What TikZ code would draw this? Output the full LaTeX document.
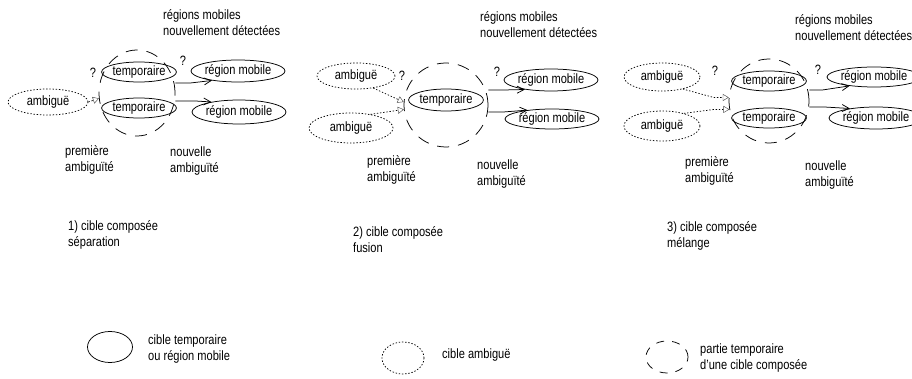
\documentclass[tikz,border=0pt]{standalone}
\usepackage{fontspec}
\setmainfont{Liberation Sans}[FakeStretch=0.82]
\usetikzlibrary{shapes.geometric,arrows.meta}
\begin{document}
\begin{tikzpicture}[x=1pt,y=-1pt,
  every node/.style={font=\fontsize{13.5}{16}\selectfont},
  cell/.style={ellipse,draw,line width=0.75pt,inner sep=0pt},
  solidell/.style={cell},
  ambell/.style={cell,dash pattern=on 1.4pt off 1.8pt},
  compell/.style={cell,dash pattern=on 12pt off 9pt},
  legdash/.style={cell,dash pattern=on 8pt off 8pt},
  lbl/.style={anchor=west,align=left,inner sep=0pt},
  qmark/.style={inner sep=0pt},
  arr/.style={line width=0.75pt,-{Straight Barb[length=7pt,width=7pt]}},
  dotarr/.style={line width=0.7pt,dash pattern=on 1.4pt off 1.8pt,
                 -{Triangle[open,length=6pt,width=7pt,line width=0.45pt,color=black!70]}}
]
\useasboundingbox (0,0) rectangle (912,379);

% ---------- 1) séparation ----------
\node[lbl] (top1) at (163,23) {régions mobiles\\nouvellement détectées};
\node[ambell,minimum width=80pt,minimum height=26pt] (amb1) at (48,102) {ambiguë};
\node[compell,minimum width=76pt,minimum height=86pt] (c1) at (137,93) {};
\node[solidell,minimum width=68pt,minimum height=20pt] (t1a) at (139,72) {temporaire};
\node[solidell,minimum width=68pt,minimum height=20pt] (t1b) at (139,108) {temporaire};
\node[solidell,minimum width=76pt,minimum height=22pt] (rm1a) at (238,71) {région mobile};
\node[solidell,minimum width=76pt,minimum height=24pt] (rm1b) at (239,112) {région mobile};
\node[qmark] (q1a) at (93,73) {?};
\node[qmark] (q1b) at (183,61) {?};
\draw[dotarr] (amb1.east) -- (c1.188);
\draw[arr] (c1.east) ++(0,-10) -- ++(15,0) -- (rm1a.200);
\draw[arr] (c1.east) ++(0,8) -- ++(20,0) -- (rm1b.160);
\node[lbl] (pa1) at (65,160) {première\\ambiguïté};
\node[lbl] (na1) at (170,161) {nouvelle\\ambiguïté};
\node[lbl] (cap1) at (68,235) {1) cible composée\\séparation};

% ---------- 2) fusion ----------
\node[lbl] (top2) at (480,24.5) {régions mobiles\\nouvellement détectées};
\node[ambell,minimum width=78pt,minimum height=26pt] (amb2a) at (356,76) {ambiguë};
\node[ambell,minimum width=84pt,minimum height=30pt] (amb2b) at (351,128) {ambiguë};
\node[compell,minimum width=84pt,minimum height=84pt] (c2) at (446,105) {};
\node[solidell,minimum width=72pt,minimum height=22pt] (t2) at (446,100) {temporaire};
\node[solidell,minimum width=78pt,minimum height=22pt] (rm2a) at (551,80) {région mobile};
\node[solidell,minimum width=78pt,minimum height=20pt] (rm2b) at (552,119) {région mobile};
\node[qmark] (q2a) at (402,76) {?};
\node[qmark] (q2b) at (497,72) {?};
\draw[dotarr] (amb2a.-35) -- (c2.176);
\draw[dotarr] (amb2b.35) -- (c2.186);
\draw[arr] (c2.east) ++(0,-15) -- ++(15,0) -- (rm2a.200);
\draw[arr] (c2.east) ++(0,7) -- ++(15,0) -- (rm2b.160);
\node[lbl] (pa2) at (367,169.5) {première\\ambiguïté};
\node[lbl] (na2) at (477,174.5) {nouvelle\\ambiguïté};
\node[lbl] (cap2) at (353,240) {2) cible composée\\fusion};

% ---------- 3) mélange ----------
\node[lbl] (top3) at (795,28) {régions mobiles\\nouvellement détectées};
\node[ambell,minimum width=76pt,minimum height=28pt] (amb3a) at (662,77) {ambiguë};
\node[ambell,minimum width=76pt,minimum height=30pt] (amb3b) at (662,126) {ambiguë};
\node[compell,minimum width=80pt,minimum height=84pt] (c3) at (769,101) {};
\node[solidell,minimum width=68pt,minimum height=20pt] (t3a) at (769,81) {temporaire};
\node[solidell,minimum width=68pt,minimum height=20pt] (t3b) at (769,118) {temporaire};
\node[solidell,minimum width=78pt,minimum height=20pt] (rm3a) at (874,77) {région mobile};
\node[solidell,minimum width=78pt,minimum height=22pt] (rm3b) at (876,118) {région mobile};
\node[qmark] (q3a) at (715,71) {?};
\node[qmark] (q3b) at (818,70) {?};
\draw[dotarr] (amb3a.-30) -- ([xshift=-15pt]c3.175) -- (c3.175);
\draw[dotarr] (amb3b.30) -- ([xshift=-15pt]c3.192) -- (c3.192);
\draw[arr] (c3.east) ++(0,-11) -- ++(13,0) -- (rm3a.200);
\draw[arr] (c3.east) ++(0,6) -- ++(15,0) -- (rm3b.160);
\node[lbl] (pa3) at (685,171) {première\\ambiguïté};
\node[lbl] (na3) at (805,175) {nouvelle\\ambiguïté};
\node[lbl] (cap3) at (667,236) {3) cible composée\\mélange};

% ---------- légende ----------
\node[solidell,minimum width=45pt,minimum height=31pt] (lg1) at (110,347) {};
\node[lbl] (lt1) at (148,349) {cible temporaire\\ou région mobile};
\node[ambell,minimum width=42pt,minimum height=32pt] (lg2) at (403,358) {};
\node[lbl] (lt2) at (442,355) {cible ambiguë};
\node[legdash,minimum width=42pt,minimum height=32pt] (lg3) at (667,357) {};
\node[lbl] (lt3) at (700,358) {partie temporaire\\d'une cible composée};
\end{tikzpicture}
\end{document}
